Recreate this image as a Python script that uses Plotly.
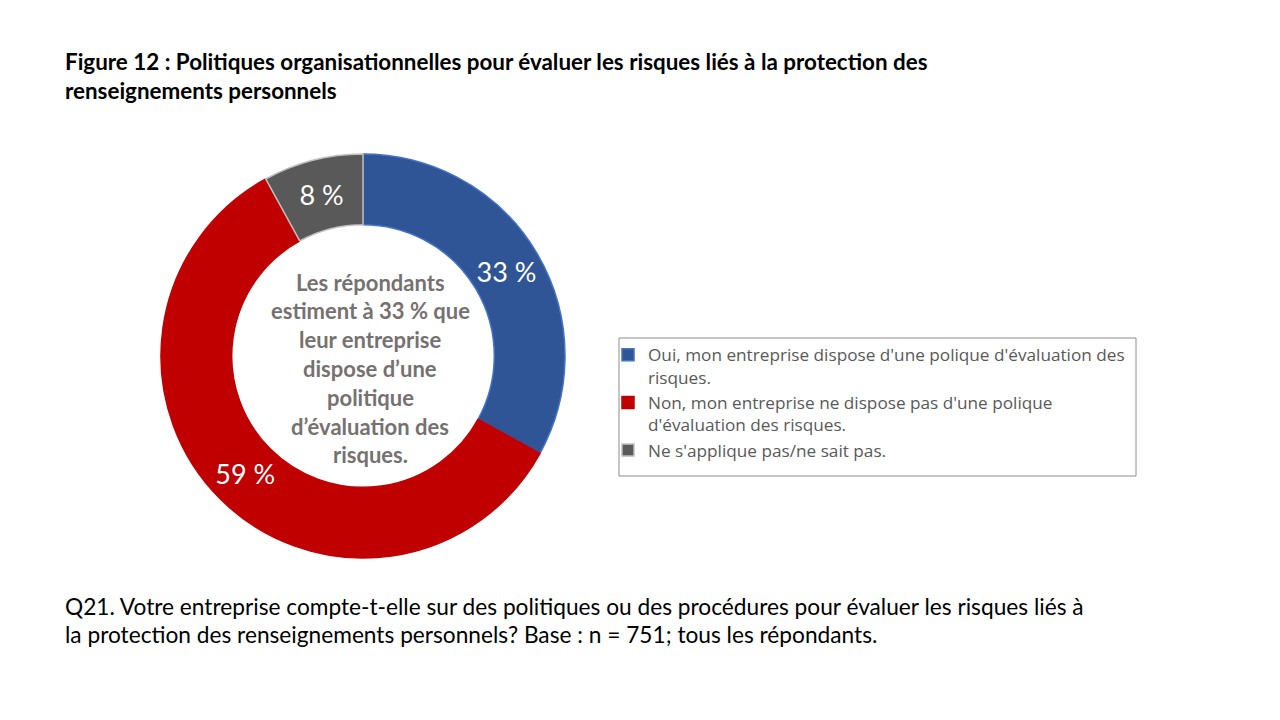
import plotly.graph_objects as go

labels = [
    "Oui, mon entreprise dispose d'une polique d'évaluation des<br>risques.",
    "Non, mon entreprise ne dispose pas d'une polique<br>d'évaluation des risques.",
    "Ne s'applique pas/ne sait pas.",
]
values = [33, 59, 8]
text_labels = ["33 %", "59 %", "8 %"]
colors = ["#2F5597", "#C00000", "#595959"]
edge_colors = ["#4472C4", "#C00000", "#BFBFBF"]

title_lines = [
    "Figure 12 : Politiques organisationnelles pour évaluer les risques liés à la protection des",
    "renseignements personnels",
]
center_lines = [
    "Les répondants",
    "estiment à 33 % que",
    "leur entreprise",
    "dispose d’une",
    "politique",
    "d’évaluation des",
    "risques.",
]
note_lines = [
    "Q21. Votre entreprise compte-t-elle sur des politiques ou des procédures pour évaluer les risques liés à",
    "la protection des renseignements personnels? Base : n = 751; tous les répondants.",
]

W, H = 1280, 720
FONT = "Lato"
OX, OY = 8, 8  # page body offset


def px(x):
    return (x - OX) / W


def py(y):
    return 1 - (y - OY) / H


cx, cy, R = 363, 356, 202

fig = go.Figure()
fig.add_trace(go.Pie(
    labels=labels,
    values=values,
    text=text_labels,
    textinfo="text",
    textposition="inside",
    insidetextorientation="horizontal",
    textfont=dict(family=FONT, size=27, color="white"),
    hole=0.65,
    sort=False,
    direction="clockwise",
    rotation=0,
    marker=dict(colors=colors, line=dict(color=edge_colors, width=1.5)),
    domain=dict(x=[px(cx - R), px(cx + R)], y=[py(cy + R), py(cy - R)]),
    showlegend=True,
    hoverinfo="label+percent",
))

annotations = []
for i, t in enumerate(title_lines):
    annotations.append(dict(
        text=f"<b>{t}</b>", x=px(63), y=py(62 + 28 * i),
        xref="paper", yref="paper", xanchor="left", yanchor="middle",
        showarrow=False, font=dict(family=FONT, size=22.4, color="black"),
    ))
for i, t in enumerate(center_lines):
    annotations.append(dict(
        text=f"<b>{t}</b>", x=px(370), y=py(282 + 28.8 * i),
        xref="paper", yref="paper", xanchor="center", yanchor="middle",
        showarrow=False, font=dict(family=FONT, size=22, color="#767171"),
    ))
for i, t in enumerate(note_lines):
    annotations.append(dict(
        text=t, x=px(63), y=py(606 + 28 * i),
        xref="paper", yref="paper", xanchor="left", yanchor="middle",
        showarrow=False, font=dict(family=FONT, size=22.7, color="black"),
    ))

fig.update_layout(
    width=W, height=H,
    margin=dict(l=0, r=0, t=0, b=0),
    paper_bgcolor="white", plot_bgcolor="white",
    font=dict(family=FONT),
    annotations=annotations,
    legend=dict(
        x=px(608), y=py(337), xanchor="left", yanchor="top",
        font=dict(family="Open Sans", size=17.2, color="#595959"),
        bgcolor="rgba(0,0,0,0)", borderwidth=0,
        valign="top", tracegroupgap=0, itemwidth=30,
    ),
    shapes=[dict(
        type="rect", xref="paper", yref="paper",
        x0=px(619), x1=px(1136), y0=py(476), y1=py(338),
        line=dict(color="#8C8C8C", width=1), fillcolor="rgba(0,0,0,0)",
    )],
)

fig.write_html("out.html")
